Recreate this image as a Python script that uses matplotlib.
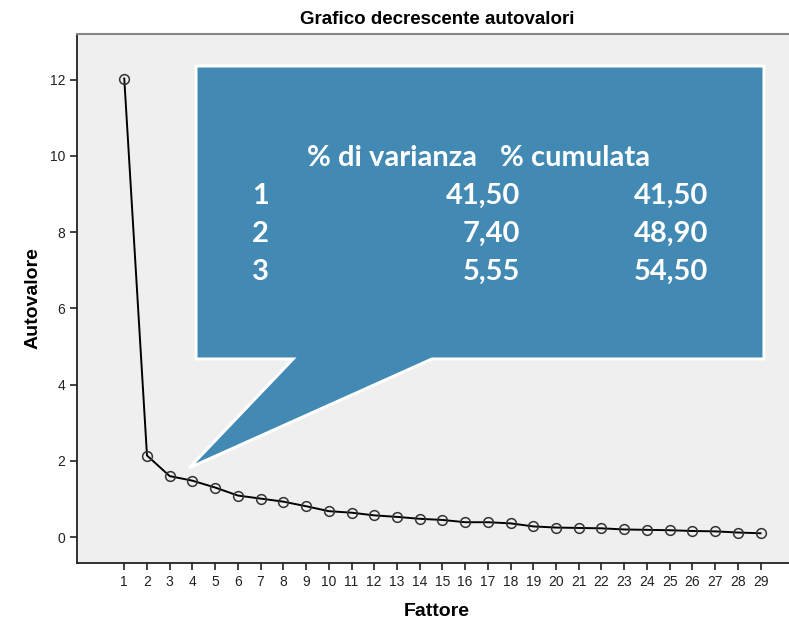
import matplotlib.pyplot as plt
from matplotlib.patches import Polygon

# autovalori per fattore
fattori = list(range(1, 30))
autovalori = [12.03, 2.14, 1.60, 1.48, 1.30, 1.09, 1.01, 0.93, 0.81, 0.68,
              0.64, 0.57, 0.53, 0.48, 0.45, 0.39, 0.39, 0.36, 0.28, 0.25,
              0.24, 0.23, 0.20, 0.19, 0.18, 0.16, 0.15, 0.12, 0.10]

# tabella del riquadro
righe = ["1", "2", "3"]
perc_varianza = ["41,50", "7,40", "5,55"]
perc_cumulata = ["41,50", "48,90", "54,50"]
intestazioni = ["% di varianza", "% cumulata"]

plt.rcParams["font.family"] = "Liberation Sans"

W, H = 789, 620
fig = plt.figure(figsize=(W / 100, H / 100), dpi=100)
ax = fig.add_axes([77 / W, (H - 563) / H, 1 - 77 / W + 0.01, (563 - 34) / H])
ax.set_facecolor("#efefef")

ax.plot(fattori, autovalori, color="black", lw=1.4, marker="o",
        markersize=7, markerfacecolor="none", markeredgecolor="#333333",
        markeredgewidth=1.1, zorder=3)

ax.set_xlim(-1.08, 30.6)
ax.set_ylim(-0.68, 13.2)
ax.set_xticks(fattori)
ax.set_yticks(range(0, 13, 2))
ax.tick_params(direction="out", length=5, width=1.2, labelsize=10,
               colors="#222222")
for s in ("left", "bottom"):
    ax.spines[s].set_linewidth(1.3)
    ax.spines[s].set_color("#222222")
ax.spines["top"].set_color("#888888")
ax.spines["top"].set_linewidth(1.5)
ax.spines["right"].set_visible(False)

ax.set_xlabel("Fattore", fontsize=14, fontweight="bold", labelpad=10)
ax.set_ylabel("Autovalore", fontsize=14, fontweight="bold", labelpad=6)
ax.set_title("Grafico decrescente autovalori", fontsize=13.5,
             fontweight="bold", pad=7)


def px(x, y):
    return (x / W, 1 - y / H)


# riquadro a fumetto
verts = [px(196, 66), px(764, 66), px(764, 359), px(432, 359),
         px(189, 468), px(293, 359), px(196, 359)]
callout = Polygon(verts, closed=True, facecolor="#4289b3", edgecolor="white",
                  linewidth=2.2, transform=fig.transFigure, zorder=5)
fig.patches.append(callout)

tkw = dict(color="white", fontsize=21, fontweight="bold", family="Lato",
           transform=fig.transFigure, va="center", zorder=6)
fig.text(*px(307, 158), intestazioni[0], ha="left", **tkw)
fig.text(*px(500, 158), intestazioni[1], ha="left", **tkw)
for i, (r, v, c) in enumerate(zip(righe, perc_varianza, perc_cumulata)):
    y = 196 + 38 * i
    fig.text(*px(252, y), r, ha="left", **tkw)
    fig.text(*px(520, y), v, ha="right", **tkw)
    fig.text(*px(708, y), c, ha="right", **tkw)

fig.savefig("out.png", dpi=100)
